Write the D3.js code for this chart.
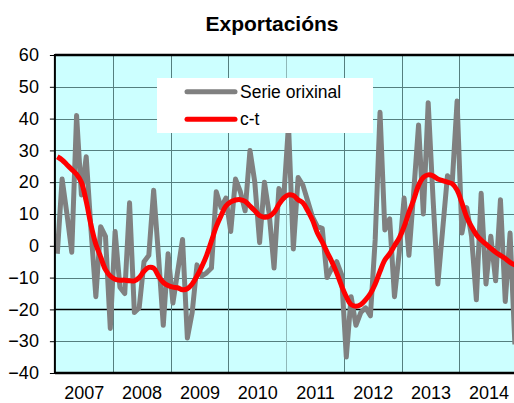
<!DOCTYPE html>
<html><head><meta charset="utf-8">
<script src="https://cdn.jsdelivr.net/npm/d3@7"></script>
<style>body{margin:0;background:#fff}svg{display:block}text{font-family:Arial,"Liberation Sans",sans-serif}</style>
</head><body>
<svg id="c" width="514" height="403"></svg>
<script>
const years = ["2007","2008","2009","2010","2011","2012","2013","2014"];
const yTicks = [-40,-30,-20,-10,0,10,20,30,40,50,60];
const seriesNames = ["Serie orixinal","c-t"];
// monthly values Jan 2007 .. Dec 2014
const orixinal = [
 -2.5,21,10,-2,41,16,28,5,-16,6,3,-26,
 4.5,-13,-15,13.5,-21,-19.5,-5,-3,17.5,-3,-25,-2.5,
 -18,-8,2,-29,-21,-6,-9.5,-8.5,-7,17,12,15,
 4.5,21,17,11,30,20,1,20,10,-7,18,15,
 38,-1,21.5,19,14,9,6,5.5,-10,-7,-5,-9,
 -35,-16,-25,-21,-19.5,-22,2,42,5,8.5,-16,-2,
 15,-3,17,38,10,45,15,-12,5,22,20,45.5,
 4,12,3,-17,16.5,-12,3,-11,14.5,-17.5,4,-31
];
const ct = [
 28,27,25.5,24,22.5,20,14,6.5,0.5,-3.5,-7.5,-9.5,
 -10.5,-10.8,-10.8,-11,-11,-10,-8,-6.8,-7,-9.5,-11.5,-12.5,
 -13,-13.2,-13.8,-13.5,-12,-9.5,-6.5,-3,1.5,6,9.5,12.5,
 13.8,14.4,14.5,14,12.5,11,9.5,9,9.3,10.5,13,15,
 16,15.8,14.5,13.5,11,8,4,1.2,-2,-5,-8.5,-12.5,
 -16,-18.5,-19,-18.5,-17,-15,-12,-8,-4.5,-2.5,0,2.5,
 6,10.5,14.5,19,21.5,22.3,22,21,20.5,20,19.5,17.5,
 13.5,9,6,3.5,1.8,0.5,-0.8,-2,-3,-4,-5.2,-6
];

const svg = d3.select("#c");
const L = 54.9, R = 517.3, T = 55, B = 373;
const x = d3.scaleLinear().domain([0, years.length*12]).range([L, R]);
const y = d3.scaleLinear().domain([-40, 60]).range([B, T]);

svg.append("rect").attr("x", L).attr("y", T).attr("width", R-L).attr("height", B-T).attr("fill", "#ccffff");

// horizontal gridlines
svg.append("g").selectAll("line").data(yTicks.filter(d=>d>-40 && d<60)).join("line")
  .attr("x1", L).attr("x2", R).attr("y1", d=>Math.round(y(d))+0.5).attr("y2", d=>Math.round(y(d))+0.5)
  .attr("stroke", d=> d===-20 ? "#000" : "#557f7f").attr("stroke-width", d=> d===-20 ? 1.5 : 1);
// vertical gridlines
svg.append("g").selectAll("line").data(d3.range(1, years.length)).join("line")
  .attr("x1", d=>Math.round(x(d*12))+0.5).attr("x2", d=>Math.round(x(d*12))+0.5).attr("y1", T).attr("y2", B)
  .attr("stroke", d=> d===4 ? "#8fb8b8" : "#557f7f").attr("stroke-width", 1);

svg.append("clipPath").attr("id","pc").append("rect").attr("x", L).attr("y", T).attr("width", R-L).attr("height", B-T);
const g = svg.append("g").attr("clip-path","url(#pc)");

const lineO = d3.line().x((d,i)=>x(i+0.5)).y(d=>y(d));
const lineC = d3.line().x((d,i)=>x(i+0.5)).y(d=>y(d)).curve(d3.curveCatmullRom.alpha(0.5));
g.append("path").attr("d", lineO(orixinal)).attr("fill","none").attr("stroke","#808080").attr("stroke-width",5).attr("stroke-linejoin","round");
g.append("path").attr("d", lineC(ct)).attr("fill","none").attr("stroke","#ff0000").attr("stroke-width",5).attr("stroke-linejoin","round");

// axes frame
svg.append("line").attr("x1", L).attr("x2", R).attr("y1", T).attr("y2", T).attr("stroke","#000").attr("stroke-width",2.5);
svg.append("line").attr("x1", L).attr("x2", R).attr("y1", B).attr("y2", B).attr("stroke","#000").attr("stroke-width",2.5);
svg.append("line").attr("x1", L).attr("x2", L).attr("y1", T-1).attr("y2", B+1).attr("stroke","#000").attr("stroke-width",2);

// y axis ticks + labels
const ya = d3.axisLeft(y).tickValues(yTicks).tickSize(5).tickPadding(11).tickFormat(d3.format("d"));
const yg = svg.append("g").attr("transform",`translate(${L},0)`).call(ya);
yg.select(".domain").remove();
yg.selectAll("text").attr("font-size","18px").attr("fill","#000").attr("font-family","Arial, 'Liberation Sans', sans-serif");
yg.selectAll("line").attr("stroke","#000");

// x labels
const xa = d3.axisBottom(x).tickValues(years.map((d,i)=>i*12+6)).tickSize(0).tickPadding(0)
  .tickFormat((d)=>years[Math.floor(d/12)]);
const xg = svg.append("g").attr("transform",`translate(0,${B})`).call(xa);
xg.select(".domain").remove();
xg.selectAll("text").attr("font-size","18px").attr("fill","#000").attr("dy",null).attr("y",26)
  .attr("font-family","Arial, 'Liberation Sans', sans-serif");

// title
svg.append("text").attr("x", 272).attr("y", 31).attr("text-anchor","middle").attr("font-size","21px").attr("font-weight","bold").text("Exportacións");

// legend
const lg = svg.append("g");
lg.append("rect").attr("x",157).attr("y",78).attr("width",216).attr("height",55).attr("fill","#fff");
const cols = ["#808080","#ff0000"];
seriesNames.forEach((n,i)=>{
  const cy = 91.7 + i*27.6;
  lg.append("line").attr("x1",187).attr("x2",235).attr("y1",cy).attr("y2",cy).attr("stroke",cols[i]).attr("stroke-width",5).attr("stroke-linecap","round");
  lg.append("text").attr("x",240).attr("y",cy+6).attr("font-size","17.5px").text(n);
});
</script>
</body></html>
